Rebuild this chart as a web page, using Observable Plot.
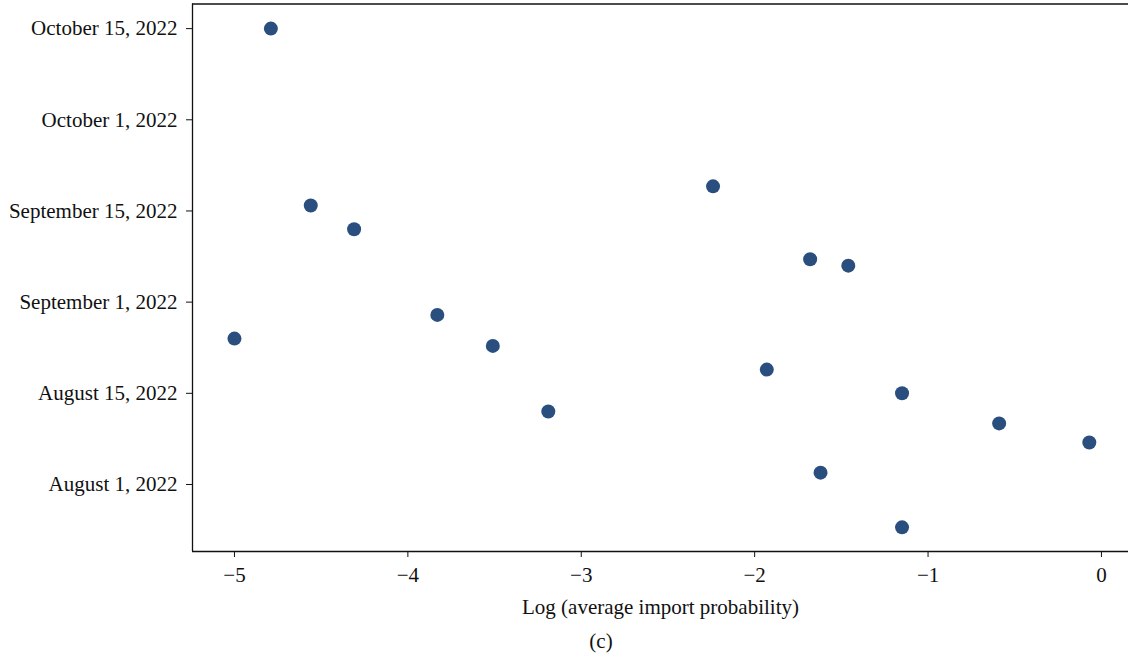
<!DOCTYPE html>
<html>
<head>
<meta charset="utf-8">
<script src="https://cdn.jsdelivr.net/npm/d3@7"></script>
<script src="https://cdn.jsdelivr.net/npm/@observablehq/plot@0.6"></script>
<style>
  html, body { margin: 0; padding: 0; background: #fff; }
  #wrap { position: relative; width: 1128px; height: 665px; font-family: "Liberation Serif", "DejaVu Serif", serif; }
  #caption { position: absolute; left: 0; width: 1202px; top: 629px; text-align: center; font-size: 21px; color: #111; }
</style>
</head>
<body>
<div id="wrap"></div>
<script>
// Log (average import probability) for each observation
const logProb = [-4.79, -4.56, -4.31, -2.24, -1.68, -1.46, -3.83, -5.00, -3.51, -1.93, -1.15, -3.19, -0.59, -0.07, -1.62, -1.15];
// Date position in tick units (0 = August 1, 2022, 1 = August 15, 2022, ...)
const datePos = [5.00, 3.06, 2.80, 3.27, 2.47, 2.40, 1.86, 1.60, 1.52, 1.26, 1.00, 0.80, 0.67, 0.46, 0.13, -0.47];
const dateTicks = [0, 1, 2, 3, 4, 5];
const dateLabels = ["August 1, 2022", "August 15, 2022", "September 1, 2022", "September 15, 2022", "October 1, 2022", "October 15, 2022"];
const xTicks = [-5, -4, -3, -2, -1, 0];

const data = logProb.map((x, i) => ({x, y: datePos[i]}));
const xDomain = [-5.242, 0.156];
const yDomain = [-0.735, 5.27];
const fmtX = d => d < 0 ? "\u2212" + Math.abs(d) : String(d);

const chart = Plot.plot({
  width: 1128,
  height: 665,
  marginLeft: 192,
  marginRight: 0,
  marginTop: 3.5,
  marginBottom: 114,
  style: {fontFamily: "Liberation Serif, DejaVu Serif, serif", fontSize: "21px", color: "#111", background: "#fff"},
  x: {domain: xDomain, ticks: xTicks, tickFormat: fmtX},
  y: {domain: yDomain, ticks: dateTicks, tickFormat: d => dateLabels[d]},
  marks: [
    Plot.axisX({ticks: xTicks, tickSize: 6, tickPadding: 10, tickFormat: fmtX,
      label: "Log (average import probability)", labelAnchor: "center", labelOffset: 62, labelArrow: false, stroke: "#111"}),
    Plot.axisY({ticks: dateTicks, tickSize: 6, tickPadding: 9, tickFormat: d => dateLabels[d], label: null, stroke: "#111"}),
    Plot.ruleX([xDomain[0]], {stroke: "#111", strokeWidth: 1.3}),
    Plot.ruleY([yDomain[0]], {stroke: "#111", strokeWidth: 1.3}),
    Plot.ruleY([yDomain[1]], {stroke: "#111", strokeWidth: 1.3}),
    Plot.dot(data, {x: "x", y: "y", r: 7, fill: "#2a4f7e", stroke: "none"})
  ]
});
const wrap = document.getElementById("wrap");
wrap.appendChild(chart);
const cap = document.createElement("div");
cap.id = "caption";
cap.textContent = "(c)";
wrap.appendChild(cap);
</script>
</body>
</html>
